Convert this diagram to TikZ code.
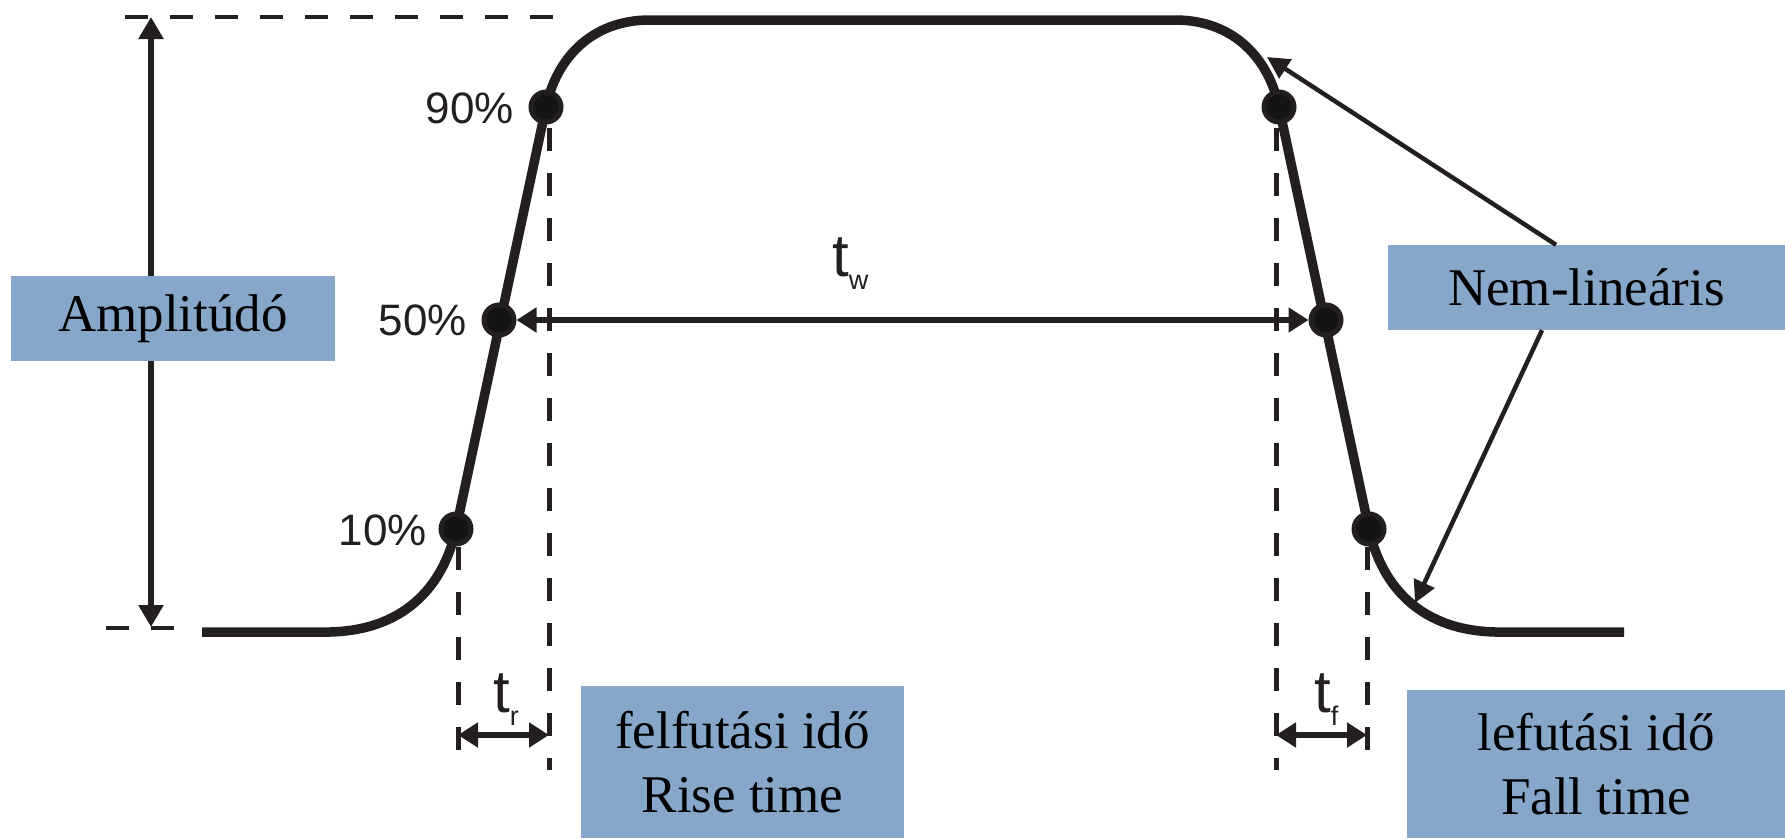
\documentclass[tikz,border=0pt]{standalone}
\usepackage{fontspec}
\setmainfont{Liberation Serif}
\newfontfamily\arial{Liberation Sans}
\usetikzlibrary{arrows.meta}
\definecolor{ink}{HTML}{231F20}
\definecolor{boxblue}{HTML}{86A7C9}
\tikzset{
 pulse/.style={draw=ink, line width=9.5pt, line join=round},
 vguide/.style={draw=ink, line width=5pt, dash pattern=on 23pt off 22pt},
 hguide/.style={draw=ink, line width=4.5pt, dash pattern=on 23pt off 22pt},
 dot/.style={circle, fill=black!92, draw=ink, line width=5pt, minimum size=30pt, inner sep=0pt},
 arr/.style={draw=ink, line width=5.5pt, -{Triangle[length=22pt,width=24pt]}},
 dimarr/.style={draw=ink, line width=5.5pt, {Triangle[length=20pt,width=24pt]}-{Triangle[length=20pt,width=24pt]}},
 thinarr/.style={draw=ink, line width=4.5pt, -{Triangle[length=22pt,width=22pt]}},
 lbl/.style={fill=boxblue, inner sep=0pt, align=center, font=\fontsize{53}{64}\selectfont},
 pct/.style={inner sep=0pt, text=ink, font=\arial\fontsize{44}{44}\selectfont},
 tlab/.style={inner sep=0pt, text=ink, anchor=base west, font=\arial\fontsize{60}{60}\selectfont},
}
\newcommand{\subtx}[1]{\raisebox{-13pt}{\fontsize{27}{27}\selectfont #1}}
\begin{document}
\begin{tikzpicture}[x=1pt,y=-1pt]
\useasboundingbox (0,0) rectangle (1785,838);

% label boxes
\node[lbl, minimum width=324pt, minimum height=85pt] (amp) at (173,318.5) {Amplitúdó};
\node[lbl, minimum width=397pt, minimum height=85pt] (nem) at (1586.5,287.5) {Nem-lineáris};
\node[lbl, minimum width=323pt, minimum height=152pt] (felf) at (742.5,762) {felfutási idő\\Rise time};
\node[lbl, minimum width=378pt, minimum height=148pt] (lef) at (1596,764) {lefutási idő\\Fall time};

% dots positions
\coordinate (c10l) at (456,529);
\coordinate (c50l) at (499,320);
\coordinate (c90l) at (546,107);
\coordinate (c90r) at (1279,107);
\coordinate (c50r) at (1326,320);
\coordinate (c10r) at (1369,529);

% horizontal guides
\coordinate (topA) at (125,17);
\coordinate (topB) at (553,17);
\coordinate (botA) at (106,628);
\coordinate (botB) at (175,628);
\draw[hguide] (topA) -- (topB);
\draw[hguide] (botA) -- (botB);

% vertical guides
\coordinate (g1a) at (458,547);  \coordinate (g1b) at (458,750);
\coordinate (g2a) at (549,128);  \coordinate (g2b) at (549,770);
\coordinate (g3a) at (1276,128); \coordinate (g3b) at (1276,770);
\coordinate (g4a) at (1367,547); \coordinate (g4b) at (1367,750);
\draw[vguide] (g1a) -- (g1b);
\draw[vguide] (g2a) -- (g2b);
\draw[vguide] (g3a) -- (g3b);
\draw[vguide] (g4a) -- (g4b);

% pulse
\coordinate (bl0) at (202,632);
\coordinate (br0) at (1624,632);
\draw[pulse] (bl0) -- (330,632) .. controls (410,630) and (445,580) .. (c10l)
  -- (c90l) .. controls (556,60) and (590,20) .. (650,20)
  -- (1175,20) .. controls (1235,20) and (1269,60) .. (c90r)
  -- (c10r) .. controls (1380,580) and (1415,630) .. (1495,632) -- (br0);

% dots
\node[dot] (l10) at (c10l) {};
\node[dot] (l50) at (c50l) {};
\node[dot] (l90) at (c90l) {};
\node[dot] (r90) at (c90r) {};
\node[dot] (r50) at (c50r) {};
\node[dot] (r10) at (c10r) {};

% percent labels
\node[pct, anchor=base east] (p90) at (514,123) {90\%};
\node[pct, anchor=base east] (p50) at (467,335) {50\%};
\node[pct, anchor=base east] (p10) at (427,545) {10\%};

% amplitude arrows
\coordinate (ampT) at (151,17);
\coordinate (ampB) at (151,627);
\draw[arr] (amp.north -| ampT) -- (ampT);
\draw[arr] (amp.south -| ampB) -- (ampB);

% pulse width
\draw[dimarr] (l50) -- (r50);
\node[tlab] (tw) at (832,276) {t\subtx{w}};

% rise / fall time
\coordinate (trA) at (458,735); \coordinate (trB) at (549,735);
\coordinate (tfA) at (1276,735); \coordinate (tfB) at (1367,735);
\draw[dimarr] (trA) -- (trB);
\draw[dimarr] (tfA) -- (tfB);
\node[tlab] (tr) at (493,712) {t\subtx{r}};
\node[tlab] (tf) at (1314,712) {t\subtx{f}};

% non-linear arrows
\coordinate (nl1) at (1267,57);
\coordinate (nl2) at (1415,603);
\draw[thinarr] (nem.north -| 1556,0) -- (nl1);
\draw[thinarr] (nem.south -| 1542,0) -- (nl2);
\end{tikzpicture}
\end{document}
